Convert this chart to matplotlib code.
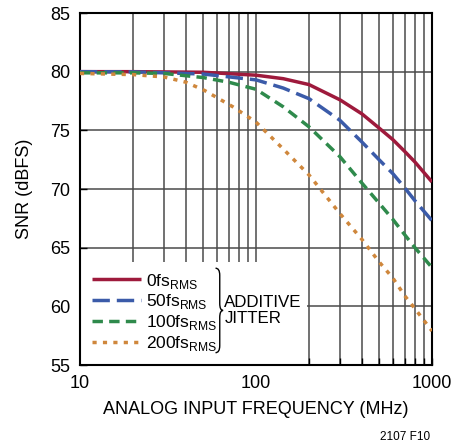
import matplotlib
matplotlib.use('Agg')
import matplotlib.pyplot as plt
from matplotlib.patches import Rectangle, PathPatch
from matplotlib.path import Path
from matplotlib import font_manager

# SNR vs input frequency for several additive jitter values
freq_0 = [10, 20, 50, 100, 143, 200, 300, 400, 500, 600, 700, 800, 1000]
snr_0 = [80.0, 80.0, 79.95, 79.7, 79.4, 78.9, 77.6, 76.4, 75.2, 74.2, 73.2, 72.3, 70.6]

freq_50 = [10, 20, 50, 100, 143, 200, 300, 400, 500, 600, 700, 800, 1000]
snr_50 = [80.0, 79.98, 79.8, 79.3, 78.6, 77.7, 75.85, 74.0, 72.5, 71.3, 70.1, 69.0, 67.3]

freq_100 = [10, 20, 30, 50, 70, 100, 143, 200, 300, 400, 500, 600, 700, 800, 1000]
snr_100 = [79.9, 79.9, 79.85, 79.5, 79.1, 78.5, 77.0, 75.3, 72.75, 70.5, 68.8, 67.4, 66.1, 65.0, 63.3]

freq_200 = [10, 20, 30, 40, 51, 74, 100, 143, 200, 300, 400, 500, 600, 700, 800, 1000]
snr_200 = [79.85, 79.75, 79.55, 79.1, 78.4, 77.0, 75.7, 73.4, 71.2, 67.9, 65.7, 63.8, 62.4, 60.9, 59.8, 57.9]

labels = [r'0fs$_{\mathregular{RMS}}$', r'50fs$_{\mathregular{RMS}}$',
          r'100fs$_{\mathregular{RMS}}$', r'200fs$_{\mathregular{RMS}}$']
colors = ['#9e1a3c', '#3b5ba9', '#2f8a4c', '#cf873c']

names = [f.name for f in font_manager.fontManager.ttflist]
if 'Liberation Sans Narrow' in names:
    plt.rcParams['font.family'] = ['Liberation Sans Narrow', 'DejaVu Sans']
else:
    plt.rcParams['font.family'] = ['Liberation Sans', 'DejaVu Sans']
plt.rcParams['mathtext.fontset'] = 'custom'
plt.rcParams['mathtext.rm'] = plt.rcParams['font.family'][0]

fig = plt.figure(figsize=(4.54, 4.45), dpi=100)
ax = fig.add_axes([80 / 454, 80 / 445, 352 / 454, 352 / 445])

ax.set_xscale('log')
ax.set_xlim(10, 1000)
ax.set_ylim(55, 85)
ax.set_yticks([55, 60, 65, 70, 75, 80, 85])
ax.set_xticks([10, 100, 1000])
ax.set_xticklabels(['10', '100', '1000'])

ax.grid(True, which='both', axis='x', color='#4a4a4a', linewidth=1.1, zorder=0)
ax.grid(True, which='major', axis='y', color='#4a4a4a', linewidth=1.1, zorder=0)
ax.set_axisbelow(True)
ax.tick_params(which='both', direction='in', labelsize=13, length=5, width=1, pad=7)
ax.tick_params(which='minor', labelbottom=False)
for s in ax.spines.values():
    s.set_linewidth(1.5)

ax.plot(freq_0, snr_0, color=colors[0], lw=2.5, solid_capstyle='butt', label=labels[0], zorder=3)
ax.plot(freq_50, snr_50, color=colors[1], lw=2.5, dashes=(5, 2), label=labels[1], zorder=3)
ax.plot(freq_100, snr_100, color=colors[2], lw=2.5, dashes=(3, 1.8), label=labels[2], zorder=3)
ax.plot(freq_200, snr_200, color=colors[3], lw=2.5, dashes=(1.2, 1.8), label=labels[3], zorder=3)

# white block behind legend
ax.add_patch(Rectangle((0, 0), 0.645, 0.293, transform=ax.transAxes,
                       facecolor='white', edgecolor='none', zorder=2))

leg = ax.legend(loc='lower left', bbox_to_anchor=(0.015, 0.015), frameon=False,
                fontsize=12.5, handlelength=2.8, handletextpad=0.3,
                labelspacing=0.1, borderaxespad=0.0)
leg.set_zorder(4)

# curly brace
bx, y0, y1 = 0.385, 0.035, 0.275
ym = (y0 + y1) / 2
w = 0.012
verts = [(bx, y1), (bx + w, y1), (bx + w, y1 - 0.02),
         (bx + w, ym + 0.02),
         (bx + w, ym), (bx + w * 1.8, ym), (bx + w * 1.8, ym),
         (bx + w, ym), (bx + w, ym - 0.02), (bx + w, ym - 0.02),
         (bx + w, y0 + 0.02),
         (bx + w, y0), (bx, y0), (bx, y0)]
codes = [Path.MOVETO, Path.CURVE3, Path.CURVE3,
         Path.LINETO,
         Path.CURVE3, Path.CURVE3, Path.LINETO,
         Path.CURVE3, Path.CURVE3, Path.LINETO,
         Path.LINETO,
         Path.CURVE3, Path.CURVE3, Path.LINETO]
ax.add_patch(PathPatch(Path(verts, codes), transform=ax.transAxes,
                       facecolor='none', edgecolor='black', lw=1.0, zorder=5))
ax.text(0.41, ym, 'ADDITIVE\nJITTER', transform=ax.transAxes, fontsize=12.2,
        va='center', ha='left', linespacing=1.1, zorder=5)

ax.set_xlabel('ANALOG INPUT FREQUENCY (MHz)', fontsize=13, labelpad=7)
ax.set_ylabel('SNR (dBFS)', fontsize=13, labelpad=12)
fig.text(430 / 454, 1 - 437 / 445, '2107 F10', fontsize=8.5, ha='right', va='center')

fig.savefig('out.png', dpi=100)
